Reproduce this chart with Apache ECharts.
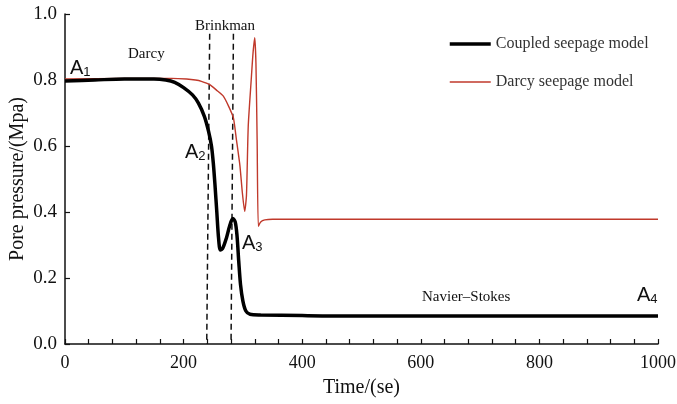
<!DOCTYPE html>
<html>
<head>
<meta charset="utf-8">
<script src="https://cdn.jsdelivr.net/npm/echarts@6/dist/echarts.min.js"></script>
<style>html,body{margin:0;padding:0;background:#fff;}#c{width:677px;height:404px;}</style>
</head>
<body>
<div id="c"></div>
<script>
// Data
var coupledSeries = [[0,0.797],[50,0.800],[100,0.803],[150,0.803],[170,0.800],[185,0.793],[200,0.777],[215,0.755],[225,0.73],[235,0.69],[242,0.645],[247,0.60],[250,0.55],[253,0.48],[256,0.40],[259,0.32],[262,0.285],[266,0.29],[272,0.32],[278,0.36],[283,0.38],[287,0.37],[290,0.33],[293,0.25],[296,0.18],[300,0.13],[305,0.10],[312,0.09],[330,0.088],[400,0.086],[450,0.085],[600,0.085],[1000,0.085]];
var darcySeries = [[0,0.803],[100,0.805],[180,0.805],[205,0.803],[220,0.800],[230,0.796],[244,0.786],[255,0.77],[267,0.751],[276,0.72],[284,0.685],[289,0.62],[295,0.54],[299,0.46],[303,0.402],[306,0.45],[309,0.66],[314,0.80],[317,0.88],[320,0.928],[322,0.85],[324,0.62],[326,0.357],[330,0.37],[337,0.376],[350,0.378],[1000,0.378]];
var divider1 = [[244,0.94],[239,0]];
var divider2 = [[284,0.94],[280,0]];
var seriesNames = ['Coupled seepage model','Darcy seepage model'];
var xTicks = {min:0, max:1000, interval:200};
var yTicks = {min:0, max:1.0, interval:0.2};
var xTitle = 'Time/(se)';
var yTitle = 'Pore pressure/(Mpa)';

var serif = 'Liberation Serif';
var sans = 'Liberation Sans';
var chart = echarts.init(document.getElementById('c'));
function sub(main, s){ return '{a|'+main+'}{s|'+s+'}'; }
var richA = {a:{fontFamily:sans,fontSize:20,color:'#111'}, s:{fontFamily:sans,fontSize:13,color:'#111',verticalAlign:'bottom',padding:[9,0,0,0]}};
function lbl(x,y,text,rich,font){
  var o = {type:'text', left:x, top:y, style:{text:text, fill:'#111'}};
  if(rich){ o.style.rich = richA; o.style.font = '20px '+sans; }
  else { o.style.font = font || ('15px '+serif); }
  return o;
}
chart.setOption({
  animation:false,
  backgroundColor:'#fff',
  grid:{left:65,right:19,top:14,bottom:60,containLabel:false,outerBoundsMode:'none'},
  legend:{
    data:[
      {name:seriesNames[0], lineStyle:{width:3.5,color:'#000'}},
      {name:seriesNames[1], lineStyle:{width:1.4,color:'#c0392b'}}
    ],
    orient:'vertical', left:448, top:36, padding:0, itemWidth:41, itemHeight:14, itemGap:22,
    itemStyle:{opacity:0},
    textStyle:{fontFamily:serif,fontSize:16,color:'#333'}
  },
  xAxis:{
    type:'value', min:xTicks.min, max:xTicks.max, interval:xTicks.interval,
    name:xTitle, nameLocation:'middle', nameGap:34,
    nameTextStyle:{fontFamily:serif,fontSize:20,color:'#111'},
    axisLine:{lineStyle:{color:'#111',width:1.5}},
    axisTick:{inside:true,length:5,lineStyle:{color:'#111',width:1.2}},
    minorTick:{show:true,splitNumber:5,length:5,lineStyle:{color:'#111',width:1.2}},
    axisLabel:{fontFamily:serif,fontSize:18,color:'#111',margin:10,formatter:function(v){return String(v);}},
    splitLine:{show:false}
  },
  yAxis:{
    type:'value', min:yTicks.min, max:yTicks.max, interval:yTicks.interval,
    name:yTitle, nameLocation:'middle', nameGap:37, nameMoveOverlap:false,
    nameTextStyle:{fontFamily:serif,fontSize:20,color:'#111'},
    axisLine:{show:true,lineStyle:{color:'#111',width:1.5}},
    axisTick:{show:true,inside:true,length:5,lineStyle:{color:'#111',width:1.2}},
    axisLabel:{fontFamily:serif,fontSize:19,color:'#111',margin:8,formatter:function(v){return v.toFixed(1);}},
    splitLine:{show:false}
  },
  series:[
    {name:seriesNames[0], type:'line', data:coupledSeries, showSymbol:false, symbol:'none', smooth:0.3,
     lineStyle:{color:'#000',width:3.5}, itemStyle:{color:'#000'}, z:3},
    {name:seriesNames[1], type:'line', data:darcySeries, showSymbol:false, symbol:'none', smooth:0.2,
     lineStyle:{color:'#c0392b',width:1.4}, itemStyle:{color:'#c0392b'}, z:2},
    {name:'d1', type:'line', data:divider1, showSymbol:false, symbol:'none',
     lineStyle:{color:'#111',width:1.5,type:[6,4]}, z:1},
    {name:'d2', type:'line', data:divider2, showSymbol:false, symbol:'none',
     lineStyle:{color:'#111',width:1.5,type:[6,4]}, z:1}
  ],
  graphic:[
    lbl(70,58,sub('A','1'),true),
    lbl(185,142,sub('A','2'),true),
    lbl(242,233,sub('A','3'),true),
    lbl(637,285,sub('A','4'),true),
    lbl(128,47,'Darcy',false,'15px '+serif),
    lbl(195,19,'Brinkman',false,'15px '+serif),
    lbl(422,290,'Navier\u2013Stokes',false,'15px '+serif)
  ]
});
</script>
</body>
</html>
